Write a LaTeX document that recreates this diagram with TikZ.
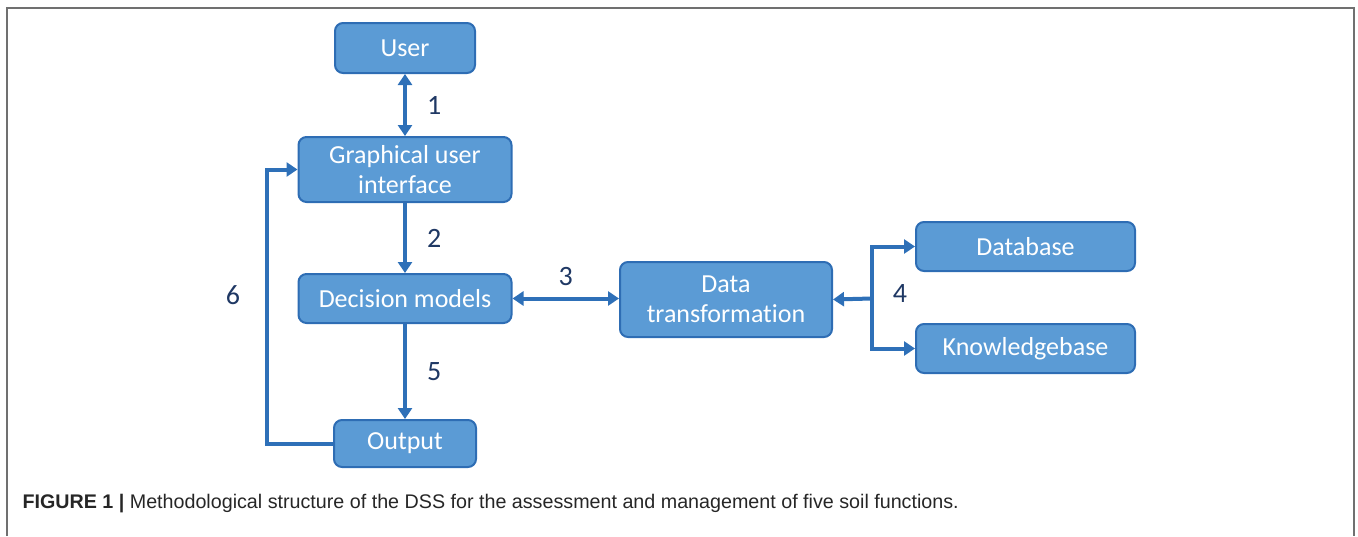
\documentclass[tikz,border=0pt]{standalone}
\usepackage{fontspec}
\usepackage{xcolor}
\usetikzlibrary{arrows.meta}
\setmainfont{Carlito}[Ligatures=NoCommon]
\newfontfamily\capfont{Liberation Sans}

\definecolor{boxfill}{HTML}{5B9BD5}
\definecolor{boxline}{HTML}{2E6DB4}
\definecolor{flowblue}{HTML}{2E70B8}
\definecolor{navy}{HTML}{1F3864}
\definecolor{framegray}{HTML}{707070}

\tikzset{
  box/.style = {draw=boxline, line width=2pt, fill=boxfill, rounded corners=8pt,
                text=white, inner sep=0pt, align=center,
                font=\fontsize{26}{30}\selectfont},
  flowtip/.tip = {Triangle[width=14pt,length=11pt]},
  flow/.style = {draw=flowblue, line width=4pt, arrows={-flowtip}},
  twoway/.style = {flow, arrows={flowtip-flowtip}},
  num/.style = {text=navy, font=\fontsize{28}{30}\selectfont, inner sep=0pt}
}

\begin{document}
\begin{tikzpicture}[x=1pt, y=-1pt]
\useasboundingbox (0,0) rectangle (1358,536);
\draw[color = framegray, line width=1.5pt] (7,536) -- (7,8) -- (1354,8) -- (1354,536); % open frame
\node[box, minimum width=140pt, minimum height=50pt] (user) at (405,48) {User};
\node[box, minimum width=213pt, minimum height=65pt] (gui) at (405,169.5) {Graphical user\\interface};
\node[box, minimum width=213pt, minimum height=49pt] (dec) at (405,298.5) {Decision models};
\node[box, minimum width=142pt, minimum height=47pt] (out) at (405,443.5) {Output};
\node[box, minimum width=212pt, minimum height=75pt] (trans) at (726,299.5) {Data\\transformation};
\node[box, minimum width=219pt, minimum height=49pt] (db) at (1025.5,246.5) {Database};
\node[box, minimum width=219pt, minimum height=49pt] (kb) at (1025.5,348.5) {Knowledgebase};
\coordinate (split) at (872,298.5);
\draw[twoway] (user) -- node[num, right=20pt] {1} (gui);
\draw[flow] (gui) -- node[num, right=20pt] {2} (dec);
\draw[flow] (dec) -- node[num, right=20pt] {5} (out);
\draw[twoway] (dec.east) -- node[num, above=11pt] {3} (dec.east -| trans.west);
\draw[flow] (out.west) -- ++(-66,0) |- node[num, pos=0.27, left=25pt] {6} (gui.west);
\draw[flow] (split) -- (trans.east);
\draw[flow] (split) |- (db.west);
\draw[flow] (split) |- (kb.west);
\node[num] (four) at (900,294) {4};
\node[anchor=west, text=black!85, font=\capfont\fontsize{19.7}{22}\selectfont] (caption) at (19,504)
  {\textbf{FIGURE 1 |} Methodological structure of the DSS for the assessment and management of five soil functions.};
\end{tikzpicture}
\end{document}
